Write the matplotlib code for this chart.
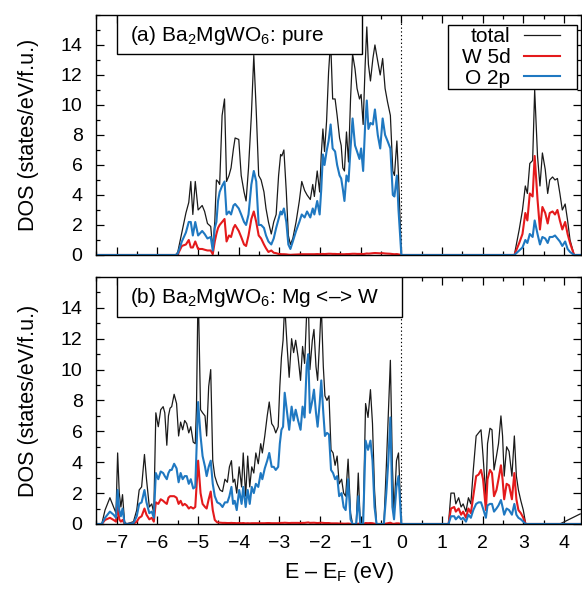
import matplotlib
matplotlib.use("Agg")
import matplotlib.pyplot as plt
from matplotlib.patches import Rectangle
from matplotlib.ticker import MultipleLocator

plt.rcParams["font.family"] = ["Liberation Sans", "DejaVu Sans"]
plt.rcParams["mathtext.fontset"] = "custom"
plt.rcParams["mathtext.rm"] = "Liberation Sans"
plt.rcParams["mathtext.default"] = "regular"

# ---- panel (a): pure Ba2MgWO6 ----
energy_a = [
    -7.5, -5.55, -5.50, -5.40, -5.30, -5.23, -5.18, -5.13, -5.07, -5.00,
    -4.90, -4.84, -4.77, -4.69, -4.64, -4.59, -4.55, -4.51, -4.47, -4.41,
    -4.35, -4.30, -4.24, -4.19, -4.13, -4.09, -4.00, -3.94, -3.87, -3.82,
    -3.76, -3.69, -3.63, -3.57, -3.51, -3.45, -3.38, -3.33, -3.27, -3.20,
    -3.14, -3.08, -3.02, -2.97, -2.94, -2.89, -2.83, -2.78, -2.73, -2.67,
    -2.59, -2.51, -2.45, -2.38, -2.32, -2.24, -2.18, -2.14, -2.07, -2.01,
    -1.97, -1.93, -1.89, -1.84, -1.79, -1.74, -1.69, -1.63, -1.58, -1.52,
    -1.48, -1.44, -1.40, -1.35, -1.30, -1.25, -1.20, -1.14, -1.09, -1.03,
    -0.99, -0.94, -0.89, -0.85, -0.81, -0.76, -0.70, -0.65, -0.58, -0.52,
    -0.46, -0.40, -0.34, -0.27, -0.21, -0.17, -0.11, -0.07, 0.0,
    2.78, 2.90, 2.98, 3.05, 3.10, 3.16, 3.23, 3.28, 3.35, 3.41,
    3.47, 3.54, 3.60, 3.65, 3.72, 3.78, 3.84, 3.90, 3.96, 4.03,
    4.09, 4.15, 4.25, 4.4,
]
total_a = [
    0, 0, 0.2, 1.5, 2.8, 3.5, 4.9, 2.7, 4.9, 3.0,
    3.3, 2.9, 2.1, 1.9, 0.4, 2.2, 5.0, 4.9, 4.7, 9.3,
    10.4, 4.9, 5.3, 5.8, 7.1, 7.8, 7.7, 5.3, 4.2, 3.6,
    5.8, 9.3, 13.3, 9.6, 5.3, 5.0, 4.2, 3.1, 2.2, 1.4,
    2.2, 2.7, 5.3, 6.7, 6.6, 7.0, 4.2, 1.3, 0.7, 1.1,
    2.2, 3.6, 4.9, 4.3, 4.0, 3.7, 4.7, 3.9, 5.6, 4.2,
    6.7, 8.4, 6.9, 8.9, 12.2, 14.3, 10.4, 10.4, 9.3, 7.8,
    7.3, 5.8, 5.6, 8.2, 6.2, 10.4, 13.4, 12.4, 11.1, 10.4,
    10.7, 8.7, 12.7, 15.2, 12.7, 11.6, 13.1, 14.0, 12.9, 12.0,
    13.1, 11.1, 10.2, 9.3, 5.6, 5.3, 7.6, 5.3, 0,
    0, 1.7, 3.0, 4.6, 4.1, 6.1, 6.3, 11.0, 6.6, 4.6,
    6.8, 5.7, 4.1, 5.0, 5.2, 5.0, 5.1, 4.1, 3.0, 3.4,
    2.3, 1.0, 0, 0,
]
w5d_a = [
    0, 0, 0.05, 0.6, 0.7, 1.0, 0.5, 0.5, 0.9, 0.4,
    0.4, 0.35, 0.3, 0.3, 0.05, 0.9, 1.4, 1.8, 2.0, 2.2,
    2.4, 0.9, 1.3, 1.2, 1.8, 2.0, 1.6, 1.2, 0.7, 0.6,
    1.3, 2.4, 2.9, 2.2, 1.3, 1.1, 0.7, 0.45, 0.2, 0.3,
    0.15, 0.12, 0.07, 0.06, 0.05, 0.05, 0.04, 0.02, 0.01, 0.02,
    0.03, 0.04, 0.05, 0.05, 0.05, 0.05, 0.05, 0.05, 0.06, 0.05,
    0.06, 0.07, 0.06, 0.07, 0.08, 0.08, 0.07, 0.07, 0.06, 0.06,
    0.05, 0.05, 0.05, 0.06, 0.06, 0.07, 0.08, 0.08, 0.07, 0.07,
    0.07, 0.06, 0.08, 0.1, 0.09, 0.1, 0.12, 0.13, 0.12, 0.11,
    0.12, 0.1, 0.09, 0.08, 0.06, 0.05, 0.06, 0.04, 0,
    0, 0.8, 1.4, 2.8, 2.3, 4.1, 3.9, 6.6, 3.7, 1.7,
    3.2, 2.8, 2.1, 2.8, 2.9, 2.7, 3.0, 2.3, 1.7, 2.2,
    1.4, 0.8, 0, 0,
]
o2p_a = [
    0, 0, 0.1, 0.9, 1.5, 2.2, 2.2, 1.3, 2.2, 1.3,
    1.6, 1.4, 1.1, 1.2, 0.3, 1.8, 2.2, 3.6, 4.2, 4.6,
    4.9, 2.7, 2.9, 2.7, 3.3, 3.4, 3.1, 2.7, 2.2, 2.0,
    2.7, 4.7, 5.6, 4.9, 2.0, 2.0, 1.8, 1.3, 0.9, 0.7,
    1.1, 1.8, 2.4, 2.9, 2.7, 3.1, 2.2, 0.7, 0.4, 0.9,
    1.6, 2.2, 2.7, 2.5, 2.9, 2.5, 3.1, 2.7, 3.6, 2.7,
    4.4, 6.7, 6.0, 6.9, 7.6, 8.7, 7.1, 6.9, 6.0, 5.3,
    5.1, 4.4, 3.6, 5.3, 4.9, 7.1, 9.1, 7.3, 6.9, 6.4,
    7.1, 5.6, 8.7, 10.3, 8.4, 8.8, 8.7, 9.7, 8.0, 7.1,
    9.1, 8.0, 7.6, 7.1, 4.0, 3.9, 5.3, 3.0, 0,
    0, 0.3, 0.5, 1.0, 0.8, 1.4, 1.2, 2.3, 1.4, 0.7,
    1.2, 1.1, 0.8, 1.2, 1.2, 1.3, 1.1, 0.9, 0.6, 0.9,
    0.4, 0.2, 0, 0,
]

# ---- panel (b): Mg <-> W antisite ----
energy_b = [
    -7.5, -7.37, -7.29, -7.17, -7.08, -7.02, -6.98, -6.94, -6.90, -6.86,
    -6.81, -6.76, -6.59, -6.51, -6.45, -6.39, -6.32, -6.27, -6.20, -6.14,
    -6.09, -6.04, -5.98, -5.92, -5.86, -5.82, -5.77, -5.73, -5.69, -5.65,
    -5.59, -5.53, -5.48, -5.43, -5.38, -5.33, -5.28, -5.23, -5.18, -5.12,
    -5.07, -5.04, -5.00, -4.94, -4.89, -4.83, -4.79, -4.74, -4.69, -4.64,
    -4.59, -4.53, -4.46, -4.40, -4.34, -4.28, -4.23, -4.18, -4.14, -4.10,
    -4.05, -3.99, -3.93, -3.89, -3.83, -3.78, -3.73, -3.68, -3.63, -3.58,
    -3.52, -3.46, -3.42, -3.36, -3.30, -3.25, -3.19, -3.14, -3.09, -3.03,
    -2.99, -2.95, -2.91, -2.87, -2.81, -2.76, -2.70, -2.65, -2.60, -2.54,
    -2.48, -2.43, -2.38, -2.33, -2.29, -2.25, -2.19, -2.15, -2.10, -2.06,
    -2.01, -1.97, -1.92, -1.88, -1.83, -1.78, -1.73, -1.68, -1.63, -1.58,
    -1.53, -1.47, -1.42, -1.37, -1.31, -1.25, -1.20, -1.11, -1.06, -1.01,
    -0.94, -0.88, -0.82, -0.76, -0.71, -0.66, -0.61, -0.43, -0.37, -0.32,
    -0.27, -0.22, -0.18, -0.12, -0.07, 0.0,
    1.16, 1.22, 1.30, 1.34, 1.41, 1.47, 1.52, 1.59, 1.65, 1.71,
    1.77, 1.84, 1.90, 1.96, 2.01, 2.08, 2.12, 2.18, 2.23, 2.28,
    2.34, 2.39, 2.45, 2.49, 2.53, 2.59, 2.65, 2.72, 2.78, 2.83,
    2.88, 2.94, 3.00, 3.06, 3.90, 4.40,
]
total_b = [
    0, 0, 0.9, 1.7, 1.1, 0.7, 4.6, 2.0, 1.1, 1.9,
    0.15, 0, 0.15, 0.9, 2.2, 2.4, 4.5, 2.9, 1.1, 1.3,
    0.7, 7.2, 6.3, 7.4, 7.6, 7.2, 5.1, 7.0, 7.5, 7.6,
    8.4, 7.8, 5.7, 6.6, 6.1, 6.7, 6.5, 5.9, 6.3, 5.3,
    5.2, 7.6, 15.5, 7.4, 7.2, 7.0, 5.7, 8.9, 10.0, 4.1,
    3.1, 2.6, 2.2, 2.1, 2.9, 2.7, 3.7, 4.1, 2.7, 2.9,
    2.0, 3.7, 2.4, 4.6, 1.8, 4.4, 2.4, 3.7, 3.3, 4.6,
    3.9, 5.2, 4.6, 5.7, 7.0, 7.9, 6.5, 6.3, 5.9, 6.3,
    8.9, 10.8, 11.9, 14.2, 11.5, 9.5, 12.0, 11.1, 11.9, 10.8,
    9.3, 11.5, 10.4, 13.6, 14.6, 10.0, 11.9, 12.6, 10.2, 9.3,
    11.9, 14.2, 10.2, 8.3, 8.0, 8.3, 4.8, 4.6, 3.8, 4.4,
    2.6, 2.9, 2.0, 1.8, 4.2, 0.7, 0, 0, 3.3, 0,
    0, 7.8, 6.9, 8.7, 6.5, 2.2, 0, 0, 3.7, 7.2,
    10.6, 3.7, 0.7, 4.1, 4.6, 0,
    0, 2.0, 2.0, 1.3, 1.7, 1.1, 1.3, 0.8, 1.7, 1.3,
    3.5, 5.7, 5.9, 6.1, 4.4, 1.7, 5.2, 6.2, 6.1, 3.5,
    4.4, 5.2, 7.0, 5.7, 3.1, 5.0, 4.7, 3.1, 5.7, 3.1,
    2.2, 1.5, 0.9, 0, 0, 0.65,
]
w5d_b = [
    0, 0, 0.26, 0.4, 0.26, 0.15, 1.3, 0.3, 0.15, 0.26,
    0.02, 0, 0.02, 0.15, 0.4, 0.5, 1.0, 0.6, 0.3, 0.4,
    0.15, 1.4, 1.3, 1.6, 1.5, 1.4, 1.3, 1.7, 1.8, 1.8,
    1.8, 1.7, 1.3, 1.5, 1.2, 1.3, 1.2, 1.0, 1.1, 1.0,
    1.1, 2.4, 4.1, 2.0, 1.3, 1.1, 1.0, 1.6, 2.1, 0.9,
    0.26, 0.1, 0.08, 0.07, 0.07, 0.06, 0.06, 0.07, 0.06, 0.06,
    0.05, 0.06, 0.05, 0.06, 0.04, 0.05, 0.04, 0.05, 0.05, 0.05,
    0.05, 0.05, 0.05, 0.05, 0.06, 0.06, 0.05, 0.05, 0.05, 0.05,
    0.06, 0.07, 0.07, 0.08, 0.07, 0.06, 0.07, 0.07, 0.07, 0.07,
    0.06, 0.07, 0.07, 0.09, 0.1, 0.07, 0.08, 0.08, 0.07, 0.06,
    0.07, 0.08, 0.07, 0.06, 0.06, 0.06, 0.04, 0.04, 0.04, 0.04,
    0.03, 0.03, 0.02, 0.02, 0.03, 0.01, 0, 0, 0.02, 0,
    0, 0.06, 0.05, 0.06, 0.05, 0.02, 0, 0, 0.03, 0.05,
    0.08, 0.02, 0.01, 0.04, 0.04, 0,
    0, 1.0, 1.1, 0.8, 1.0, 0.6, 0.8, 0.4, 1.0, 0.7,
    1.8, 3.1, 3.2, 3.5, 2.9, 0.9, 2.9, 3.5, 3.3, 1.8,
    2.2, 2.9, 3.8, 2.9, 1.6, 2.6, 2.5, 1.6, 3.3, 1.6,
    0.9, 0.7, 0.4, 0, 0, 0,
]
o2p_b = [
    0, 0, 0.4, 0.8, 0.6, 0.4, 2.2, 0.9, 0.5, 1.0,
    0.05, 0, 0.05, 0.5, 1.3, 1.4, 2.2, 1.4, 0.7, 0.8,
    0.4, 3.3, 2.9, 3.4, 3.3, 3.1, 2.9, 3.3, 3.5, 3.5,
    3.9, 3.6, 2.7, 3.3, 2.9, 3.1, 3.1, 2.6, 2.9, 2.3,
    2.4, 4.8, 7.9, 5.7, 4.4, 3.7, 3.1, 3.7, 4.1, 2.6,
    1.8, 1.4, 1.3, 1.1, 1.4, 1.4, 1.8, 2.4, 1.3, 1.5,
    0.9, 2.2, 1.3, 2.4, 1.1, 2.2, 1.3, 2.4, 2.0, 2.6,
    2.4, 3.3, 2.9, 3.6, 4.1, 4.6, 3.7, 3.7, 3.5, 3.7,
    5.2, 6.1, 6.3, 8.5, 7.2, 6.1, 7.6, 6.7, 7.4, 6.7,
    6.1, 7.6, 6.9, 10.2, 11.0, 7.2, 8.0, 8.7, 7.2, 6.3,
    7.8, 9.3, 7.2, 5.7, 5.9, 5.8, 3.5, 3.3, 2.9, 3.1,
    1.8, 2.0, 1.1, 0.9, 2.9, 0.3, 0, 0, 1.8, 0,
    0, 5.4, 4.8, 5.4, 4.1, 1.1, 0, 0, 2.0, 4.1,
    6.9, 1.1, 0.3, 2.4, 3.1, 0,
    0, 0.5, 0.5, 0.3, 0.5, 0.3, 0.4, 0.15, 0.6, 0.4,
    0.9, 1.3, 1.4, 1.4, 1.0, 0.4, 1.2, 1.3, 1.3, 0.8,
    1.0, 1.2, 1.55, 1.1, 0.6, 1.0, 0.9, 0.6, 1.3, 0.6,
    0.4, 0.3, 0.15, 0, 0, 0,
]

panel_titles = [r"(a) Ba$_2$MgWO$_6$: pure", r"(b) Ba$_2$MgWO$_6$: Mg <–> W"]
series_labels = ["total", "W 5d", "O 2p"]
series_colors = ["#1a1a1a", "#e41a1c", "#1f78c1"]
series_widths = [0.9, 1.5, 1.5]
x_ticks = [-7, -6, -5, -4, -3, -2, -1, 0, 1, 2, 3, 4]
y_ticks = [0, 2, 4, 6, 8, 10, 12, 14]

fig = plt.figure(figsize=(5.82, 5.89), dpi=100)
ax_a = fig.add_axes([0.1658, 0.5671, 0.8325, 0.4075])
ax_b = fig.add_axes([0.1658, 0.1104, 0.8325, 0.4194])

panels = [
    (ax_a, energy_a, [total_a, w5d_a, o2p_a], 0.5476),
    (ax_b, energy_b, [total_b, w5d_b, o2p_b], 0.6305),
]

for i, (ax, energy, curves, box_right) in enumerate(panels):
    for values, lab, col, lw in zip(curves, series_labels, series_colors, series_widths):
        ax.plot(energy, values, color=col, lw=lw, label=lab)
    ax.axvline(0, color="black", lw=0.8, ls=(0, (1.2, 2.2)), zorder=1.5)

    ax.set_xlim(-7.5, 4.42)
    ax.set_ylim(0, 16)
    ax.set_xticks(x_ticks)
    ax.set_yticks(y_ticks)
    ax.xaxis.set_minor_locator(MultipleLocator(0.5))
    ax.yaxis.set_minor_locator(MultipleLocator(1))
    ax.tick_params(which="both", direction="in", top=True, right=True, width=0.9)
    ax.tick_params(which="major", length=6, labelsize=14)
    ax.tick_params(which="minor", length=3)
    ax.tick_params(axis="y", pad=10)
    ax.tick_params(axis="x", pad=8)
    for sp in ax.spines.values():
        sp.set_linewidth(1.0)
    ax.set_ylabel("DOS (states/eV/f.u.)", fontsize=15.5, labelpad=16)

    # panel caption in an opaque framed box
    ax.add_patch(Rectangle((0.0423, 0.8375), box_right - 0.0423, 0.1625,
                           transform=ax.transAxes, facecolor="white",
                           edgecolor="black", lw=1.0, zorder=5))
    ax.text(0.070, 0.915, panel_titles[i], transform=ax.transAxes,
            fontsize=15, ha="left", va="center", zorder=6)

ax_a.tick_params(labelbottom=False)
ax_b.set_xlabel("E – E$_F$ (eV)", fontsize=15.5, labelpad=6)

# legend frame drawn by hand so the side padding can be wider than the top
ax_a.add_patch(Rectangle((0.7255, 0.6917), 0.9917 - 0.7255, 0.9583 - 0.6917,
                         transform=ax_a.transAxes, facecolor="white",
                         edgecolor="black", lw=1.0, zorder=5))
leg = ax_a.legend(loc="upper right", bbox_to_anchor=(0.9572, 0.948),
                  borderaxespad=0, borderpad=0, markerfirst=False,
                  frameon=False, fontsize=15, handlelength=1.75,
                  handletextpad=0.65, labelspacing=0.08)
leg.set_zorder(6)

fig.savefig("out.png", dpi=100)
